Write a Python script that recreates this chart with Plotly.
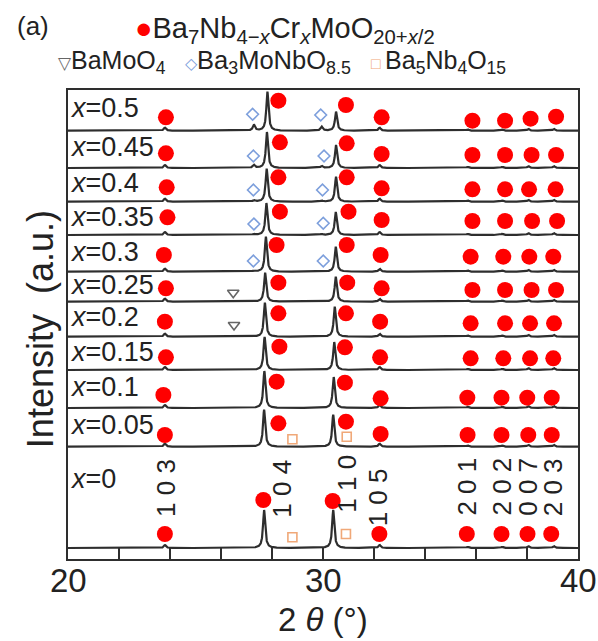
import numpy as np
import plotly.graph_objects as go

# ---- data -------------------------------------------------------------
compositions = ["0", "0.05", "0.1", "0.15", "0.2", "0.25", "0.3", "0.35", "0.4", "0.45", "0.5"]

# vertical stacking offset of each pattern (a.u.)
offsets = [11, 112.3, 151, 189, 222.3, 257.3, 287.3, 324, 357.3, 391, 428.3]

# strong reflections (104) and (110): position (deg) and intensity (a.u.)
pos_104 = [27.69, 27.69, 27.70, 27.71, 27.72, 27.73, 27.76, 27.78, 27.79, 27.80, 27.82]
int_104 = [38, 37, 37, 33, 34, 29, 35, 32, 33, 36, 39]
pos_110 = [30.40, 30.40, 30.42, 30.44, 30.46, 30.50, 30.50, 30.50, 30.51, 30.51, 30.51]
int_110 = [38, 32, 31, 28, 30, 25, 25, 23, 25, 23, 19]

# weak reflections (103), (105), (201), (202), (007), (203)
weak_pos = [23.80, 32.22, 35.68, 37.03, 38.05, 39.05]
weak_int = [3, 3, 1.2, 1.2, 2, 2]

# Ba3MoNbO8.5 secondary-phase reflections
sec_pos = [27.29, 29.95]
sec_int = [[0, 0], [0, 0], [0, 0], [0, 0], [0, 0], [0, 0],
           [1, 0.6], [1, 1], [1.5, 1], [3, 2], [6, 4]]

# phase markers: 2theta and height above each pattern's baseline
main_x = [
    [23.80, 27.66, 30.38, 32.21, 35.64, 37.00, 38.02, 38.95],
    [23.80, 28.25, 30.90, 32.26, 35.67, 37.00, 38.05, 38.97],
    [23.74, 28.18, 30.86, 32.26, 35.66, 37.00, 38.01, 38.97],
    [23.84, 28.29, 30.86, 32.24, 35.79, 37.07, 38.12, 39.03],
    [23.80, 28.25, 30.90, 32.24, 35.79, 37.14, 38.12, 39.06],
    [23.84, 28.25, 30.95, 32.30, 35.86, 37.14, 38.18, 39.14],
    [23.76, 28.18, 30.93, 32.26, 35.79, 37.07, 38.09, 39.03],
    [23.90, 28.31, 31.00, 32.30, 35.86, 37.14, 38.20, 39.18],
    [23.87, 28.25, 30.93, 32.30, 35.86, 37.14, 38.08, 39.12],
    [23.84, 28.31, 30.93, 32.30, 35.86, 37.14, 38.18, 39.14],
    [23.84, 28.25, 30.90, 32.30, 35.86, 37.14, 38.14, 39.14],
]
main_h = [
    [14, 48, 47, 14, 14, 14, 14, 14],
    [11.7, 23.4, 25, 12.7, 11.7, 11.7, 11.7, 11.7],
    [13, 26.3, 25.3, 9.7, 10.3, 10.3, 10.3, 10.3],
    [12.7, 23.3, 22.7, 12.7, 11.7, 11.7, 11.7, 11.7],
    [15, 23.4, 23.4, 15, 13.4, 13.4, 13.4, 13.4],
    [13.4, 19, 19, 13.4, 11.7, 11.7, 11.7, 11.7],
    [16.7, 26.7, 26.7, 16.7, 15, 15, 15, 15],
    [17.7, 23.3, 23.3, 15, 14, 14, 14, 14],
    [14.4, 24.4, 24.4, 13.4, 12.4, 12.4, 12.4, 12.4],
    [14.7, 25.7, 24.7, 14, 13, 13, 13, 13],
    [13.4, 30, 25.7, 13.4, 10, 10, 12, 14],
]

# Ba3MoNbO8.5 markers: (sample index, 2theta, height)
dia_idx = [6, 6, 7, 7, 8, 8, 9, 9, 10, 10]
dia_x = [27.27, 30.01, 27.29, 30.01, 27.27, 29.98, 27.27, 30.04, 27.24, 29.91]
dia_h = [10.7, 10.7, 11, 11.7, 11.7, 11.7, 12, 12, 16.4, 15.7]

# BaMoO4 markers
tri_idx = [4, 5]
tri_x = [26.51, 26.48]
tri_h = [11.7, 9]

# Ba5Nb4O15 markers
sq_idx = [0, 0, 1, 1]
sq_x = [28.80, 30.90, 28.80, 30.93]
sq_h = [10.7, 14, 7.4, 10]

# Miller indices written on the x = 0 pattern
hkl_text = ["1 0 3", "1 0 4", "1 1 0", "1 0 5", "2 0 1", "2 0 2", "0 0 7", "2 0 3"]
hkl_x = [23.84, 28.38, 30.93, 32.17, 35.63, 37.00, 38.03, 39.03]
hkl_y = [71, 70, 75, 62, 72, 72, 72, 72]

# x-axis ticks
tick_vals = list(range(20, 41, 2))
tick_labels = [20, 30, 40]

# ---- figure -------------------------------------------------------------
FONT = "Liberation Sans, Arial, sans-serif"
LINE = "#2e2e2e"
TEXT = "#222222"
RED = "#ff0000"
BLUE = "#7d9fdc"
GREY = "#666666"
ORANGE = "#f0a878"
HWHM = 0.05

tt = np.linspace(20, 40, 4001)


def lorentz(x0, h):
    return h / (1.0 + ((tt - x0) / HWHM) ** 2)


fig = go.Figure()

for i, comp in enumerate(compositions):
    y = np.full_like(tt, offsets[i])
    y += lorentz(pos_104[i], int_104[i]) + lorentz(pos_110[i], int_110[i])
    for p, h in zip(weak_pos, weak_int):
        y += lorentz(p, h)
    for p, h in zip(sec_pos, sec_int[i]):
        y += lorentz(p, h)
    fig.add_trace(go.Scatter(x=tt, y=y, mode="lines",
                             line=dict(color=LINE, width=2.2),
                             showlegend=False, hoverinfo="skip"))

mx, my = [], []
for i in range(len(compositions)):
    for p, h in zip(main_x[i], main_h[i]):
        mx.append(p)
        my.append(offsets[i] + h)
fig.add_trace(go.Scatter(x=mx, y=my, mode="markers",
                         marker=dict(symbol="circle", size=16, color=RED),
                         showlegend=False, cliponaxis=False))

fig.add_trace(go.Scatter(x=dia_x, y=[offsets[i] + h for i, h in zip(dia_idx, dia_h)],
                         mode="markers",
                         marker=dict(symbol="diamond-open", size=9, color=BLUE,
                                     line=dict(color=BLUE, width=1.6)),
                         showlegend=False))
fig.add_trace(go.Scatter(x=tri_x, y=[offsets[i] + h for i, h in zip(tri_idx, tri_h)],
                         mode="markers",
                         marker=dict(symbol="triangle-down-open", size=10, color=GREY,
                                     line=dict(color=GREY, width=1.6)),
                         showlegend=False))
fig.add_trace(go.Scatter(x=sq_x, y=[offsets[i] + h for i, h in zip(sq_idx, sq_h)],
                         mode="markers",
                         marker=dict(symbol="square-open", size=9, color=ORANGE,
                                     line=dict(color=ORANGE, width=1.6)),
                         showlegend=False))

ann = []
# composition labels
for i, comp in enumerate(compositions):
    if i == 0:
        ly = offsets[i] + 69
    else:
        top = offsets[i + 1] if i + 1 < len(offsets) else 469
        ly = offsets[i] + 0.55 * (top - offsets[i])
    ann.append(dict(x=0.0, xref="paper", y=ly, yref="y", xanchor="left",
                    yanchor="middle", showarrow=False,
                    text="<i>x</i>=" + comp,
                    font=dict(family=FONT, size=27, color=TEXT)))

for t, x, y in zip(hkl_text, hkl_x, hkl_y):
    ann.append(dict(x=x, y=y, xref="x", yref="y", text=t, textangle=-90,
                    showarrow=False, xanchor="center", yanchor="middle",
                    font=dict(family=FONT, size=26, color=TEXT)))

# tick labels
for v in tick_labels:
    ann.append(dict(x=v, y=-0.0448, xref="x", yref="paper", text=str(v),
                    showarrow=False, xanchor="center", yanchor="middle",
                    font=dict(family=FONT, size=33, color=TEXT)))

# phase key above the plot
ann.append(dict(x=-0.068, y=1.136, xref="paper", yref="paper", text="(a)",
                showarrow=False, xanchor="center", yanchor="middle",
                font=dict(family=FONT, size=26, color=TEXT)))
ann.append(dict(x=0.128, y=1.128, xref="paper", yref="paper", xanchor="left",
                yanchor="middle", showarrow=False,
                text=f'<span style="color:{RED}">●</span>Ba<sub>7</sub>Nb<sub>4−<i>x</i></sub>'
                     'Cr<sub><i>x</i></sub>MoO<sub>20+<i>x</i>/2</sub>',
                font=dict(family=FONT, size=29, color=TEXT)))
ann.append(dict(x=-0.0235, y=1.06, xref="paper", yref="paper", xanchor="left",
                yanchor="middle", showarrow=False,
                text=f'<span style="color:{GREY};font-size:17px">▽</span>BaMoO<sub>4</sub>',
                font=dict(family=FONT, size=25, color=TEXT)))
ann.append(dict(x=0.2255, y=1.06, xref="paper", yref="paper", xanchor="left",
                yanchor="middle", showarrow=False,
                text=f'<span style="color:{BLUE};font-size:16px">◇</span>Ba<sub>3</sub>MoNbO<sub>8.5</sub>',
                font=dict(family=FONT, size=25.5, color=TEXT)))
ann.append(dict(x=0.59, y=1.06, xref="paper", yref="paper", xanchor="left",
                yanchor="middle", showarrow=False,
                text=f'<span style="color:{ORANGE};font-size:16px">□ </span>Ba<sub>5</sub>Nb<sub>4</sub>O<sub>15</sub>',
                font=dict(family=FONT, size=25, color=TEXT)))

# axis titles
ann.append(dict(x=0.5, y=-0.128, xref="paper", yref="paper", text="2 <i>θ</i> (°)",
                showarrow=False, xanchor="center", yanchor="middle",
                font=dict(family=FONT, size=33, color=TEXT)))
ann.append(dict(x=-0.055, y=0.49, xref="paper", yref="paper", text="Intensity  (a.u.)",
                textangle=-90, showarrow=False, xanchor="center", yanchor="middle",
                font=dict(family=FONT, size=36, color=TEXT)))

fig.update_layout(
    width=598, height=641,
    margin=dict(l=68, r=20, t=90, b=82),
    paper_bgcolor="white", plot_bgcolor="white",
    annotations=ann,
    xaxis=dict(range=[20, 40], tickvals=tick_vals, showticklabels=False,
               ticks="inside", ticklen=11, tickwidth=1.6, tickcolor=LINE,
               showline=True, linecolor=LINE, linewidth=2, mirror=True,
               showgrid=False, zeroline=False),
    yaxis=dict(range=[0, 469], showticklabels=False, ticks="",
               showline=True, linecolor=LINE, linewidth=2, mirror=True,
               showgrid=False, zeroline=False),
)

fig.write_html("out.html")
